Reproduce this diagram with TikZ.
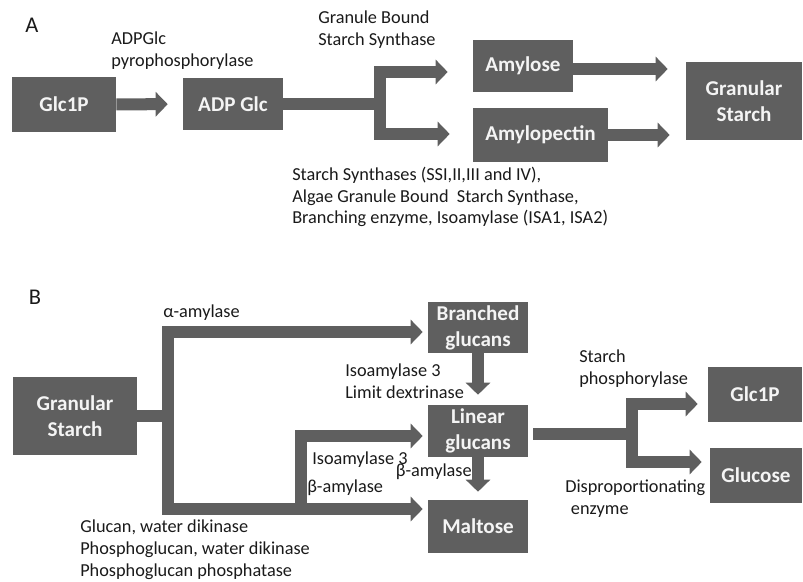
\documentclass[tikz,border=0pt]{standalone}
\usepackage{fontspec}
\setmainfont{Carlito}
\usetikzlibrary{positioning}
\usetikzlibrary{calc,arrows.meta}
\definecolor{sp-box}{HTML}{5F5F5F}
\definecolor{sp-text}{HTML}{1A1A1A}
\definecolor{sp-light}{HTML}{F4F4F4}

\begin{document}
\begin{tikzpicture}[
    x=0.025cm, y=-0.025cm, % pixel grid of the figure
    font=\fontsize{13}{15.5}\selectfont,
    >={Triangle[length=0.3cm,width=0.6cm]}
  ]

  % Styles for pools, block arrows and enzyme labels
  \tikzset{
    pool/.style={fill=sp-box, text=sp-light, font=\fontsize{15}{18.5}\selectfont\bfseries, align=center, inner sep=0pt},
    flow/.style={draw=sp-box, line width=0.3cm},
    enz/.style={text=sp-text, align=left, anchor=west, inner sep=0pt},
    panel/.style={text=sp-text, font=\fontsize{16}{19}\selectfont, inner sep=0pt}
  }
  \useasboundingbox (0,0) rectangle (803,582);

  % Panel A: synthesis
  \node (labA) [panel] at (32,25) {A};
  \node (glcA)    [pool, minimum width=2.6cm, minimum height=1.375cm] at (64,104.5) {Glc1P};
  \node (adpglc)  [pool, minimum width=2.5cm, minimum height=1.3cm] at (233,104) {ADP Glc};
  \node (amylose) [pool, minimum width=2.5cm, minimum height=1.3cm] at (523,66) {Amylose};
  \node (amylopec)[pool, minimum width=3.375cm, minimum height=1.35cm] at (540.5,135) {Amylopectin};
  \node (granA)   [pool, minimum width=2.9cm, minimum height=1.95cm] at (744,101) {Granular\\Starch};
  \coordinate (splitA) at (380,104);

  \node (agpase) [enz] at (111,51) {ADPGlc\\pyrophosphorylase};
  \node (gbss)   [enz] at (318,30) {Granule Bound\\Starch Synthase};
  \node (ssyn)   [enz] at (292,197) {Starch Synthases (SSI,II,III and IV),\\Algae Granule Bound\ \ Starch Synthase,\\Branching enzyme, Isoamylase (ISA1, ISA2)};

  \draw[->, flow, shorten >=0.375cm] (glcA) -- (adpglc);
  \draw[flow] (adpglc.east) -- (splitA);
  \draw[->, flow, shorten >=0.625cm] (splitA) |- (amylose.west |- 0,72);
  \draw[->, flow, shorten >=0.575cm] (splitA) |- (amylopec.west |- 0,134);
  \draw[->, flow, shorten >=0.45cm] (amylose.east |- 0,69) -- (granA.west |- 0,69);
  \draw[->, flow, shorten >=0.4cm] (amylopec.east) -- (amylopec.east -| granA.west);

  % Panel B: degradation
  \node (labB) [panel] at (35,297) {B};
  \node (granB)    [pool, minimum width=3.1cm, minimum height=1.95cm] at (75,416) {Granular\\Starch};
  \node (branched) [pool, minimum width=2.5cm, minimum height=1.275cm] at (478,327.5) {Branched\\glucans};
  \node (linear)   [pool, minimum width=2.5cm, minimum height=1.3cm] at (478,431) {Linear\\glucans};
  \node (maltose)  [pool, minimum width=2.5cm, minimum height=1.325cm] at (478,526.5) {Maltose};
  \node (glcB)     [pool, minimum width=2.35cm, minimum height=1.375cm] at (755,394.5) {Glc1P};
  \node (glucose)  [pool, minimum width=2.3cm, minimum height=1.375cm] at (756,475.5) {Glucose};
  \coordinate (trunkB) at (167.5,416);
  \coordinate (innerB) at (301,509);
  \coordinate (splitB) at (632,434);

  \node (aamy)   [enz] at (163,313) {α-amylase};
  \node (isodex) [enz] at (345,381) {Isoamylase 3\\Limit dextrinase};
  \node (iso3)   [enz] at (312,460) {Isoamylase 3};
  \node (bamy1)  [enz] at (307,488) {β-amylase};
  \node (bamy2)  [enz, anchor=east] at (472,472) {β-amylase};
  \node (stph)   [enz] at (579,369) {Starch\\phosphorylase};
  \node (dpe)    [enz] at (565,499) {Disproportionating\\\hspace{4pt}enzyme};
  \node (gwd)    [enz] at (80,550) {Glucan, water dikinase\\Phosphoglucan, water dikinase\\Phosphoglucan phosphatase};

  \draw[flow] (granB.east) -- (trunkB);
  \draw[->, flow, shorten >=0.125cm] (trunkB) |- (branched.west |- 0,332);
  \draw[->, flow, shorten >=0.125cm] (trunkB) |- (maltose.west |- 0,509);
  \draw[->, flow, shorten >=0.125cm] (innerB) |- (linear.west |- 0,436);
  \draw[->, flow, shorten >=0.25cm] (branched) -- (linear);
  \draw[->, flow, shorten >=0.2cm] (linear) -- (maltose);
  \draw[flow, shorten <=0.125cm] (linear.east |- splitB) -- (splitB);
  \draw[->, flow, shorten >=0.25cm] (splitB) |- (glcB.west |- 0,404);
  \draw[->, flow, shorten >=0.2cm] (splitB) |- (glucose.west |- 0,462);

\end{tikzpicture}
\end{document}
